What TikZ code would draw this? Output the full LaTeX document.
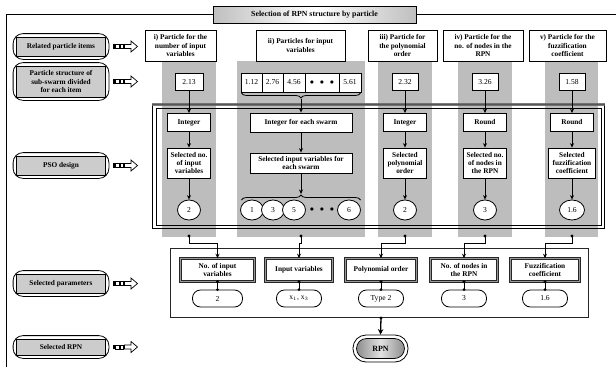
\documentclass[tikz,border=0pt]{standalone}
\usepackage{fontspec}
\setmainfont{Liberation Serif}
\usetikzlibrary{arrows.meta,shapes.geometric,shadows,fit,decorations.pathreplacing,calc}
\begin{document}
\begin{tikzpicture}[x=1pt,y=-1pt,
 every node/.style={font=\fontsize{7.3}{8.1}\selectfont\bfseries, inner sep=1pt, align=center},
 plain/.style={font=\fontsize{7.6}{8.4}\selectfont},
 hdr/.style={draw, fill=white, line width=0.8pt, minimum height=31pt,
   general shadow={fill=black, shadow xshift=1pt, shadow yshift=-1pt}},
 valbox/.style={draw, fill=white, line width=0.8pt, minimum height=17pt, plain},
 opbox/.style={draw, fill=white, line width=0.8pt, minimum height=18pt, minimum width=43pt},
 selbox/.style={draw, fill=white, line width=0.8pt, minimum height=30pt, minimum width=43pt},
 circ/.style={draw, fill=white, ellipse, line width=0.8pt, minimum width=23pt, minimum height=20pt, inner sep=0pt, plain},
 lin/.style={draw, fill=black!20, line width=0.8pt, minimum width=89pt},
 lout/.style={draw, rounded corners=10pt, inner sep=3pt, line width=0.8pt},
 pbox/.style={draw=black!85, double=black!40, double distance=1.1pt, line width=0.55pt, fill=white, minimum height=23pt},
 res/.style={draw, fill=white, rounded corners=8pt, line width=0.8pt, minimum width=45pt, minimum height=17pt, plain},
 arr/.style={line width=1pt, -{Stealth[length=4.5pt,width=4pt]}},
 conn/.style={line width=0.8pt, -{Stealth[length=4.5pt,width=4pt]}},
 dot/.style={circle, fill=black, inner sep=0pt, minimum size=3.4pt},
 colg/.style={fill=black!26},
 icon/.pic={
   \fill (0,-2.2) rectangle (2.2,2.2);
   \draw[line width=0.8pt] (3.2,-2) rectangle (6.6,2);
   \draw[line width=0.8pt] (7.6,-2) rectangle (11,2);
   \draw[line width=0.7pt] (12,-2) -- (18.5,-2) -- (18.5,-5.5) -- (25,0) -- (18.5,5.5) -- (18.5,2) -- (12,2) -- cycle;
 }
]
\useasboundingbox (0,0) rectangle (616,367);
% outer frame
\draw[line width=1pt] (616,14) -- (6,14) -- (6,367);
% gray columns
\fill[colg] (162,61) rectangle (216,237);
\fill[colg] (237,61) rectangle (365,237);
\fill[colg] (378,61) rectangle (432,237);
\fill[colg] (458,61) rectangle (512,237);
\fill[colg] (545,61) rectangle (598,237);
% PSO frame
\draw[line width=0.8pt] (152.5,104.5) rectangle (604.5,228.5);
\draw[line width=0.8pt] (156,108) rectangle (601,225);
\draw[line width=3.6pt, black!60, opacity=0.85] (152,104.5) -- (605,104.5);

% title
\node[draw, line width=0.9pt, left color=black!25, right color=black!25, middle color=white,
  minimum width=203pt, minimum height=17pt, font=\fontsize{7.8}{8.4}\selectfont\bfseries,
  general shadow={fill=black, shadow xshift=1pt, shadow yshift=-1pt}] (ttl) at (314.5,14.5)
  {Selection of RPN structure by particle};

% left labels
\node[lin, minimum height=19pt] (l1) at (61,46.5) {Related particle items};
\node[lout, fit=(l1)] (l1o) {};
\node[lin, minimum height=31pt] (l2) at (61,81.5) {Particle structure of\\sub-swarm divided\\for each item};
\node[lout, fit=(l2)] (l2o) {};
\node[lin, minimum height=19pt] (l3) at (61,165.5) {PSO design};
\node[lout, fit=(l3)] (l3o) {};
\node[lin, minimum height=19pt] (l4) at (61,283.5) {Selected parameters};
\node[lout, fit=(l4)] (l4o) {};
\node[lin, minimum height=16pt] (l5) at (61,347) {Selected RPN};
\node[lout, fit=(l5)] (l5o) {};
\pic at (112.5,46.5) {icon};
\pic at (112.5,81.5) {icon};
\pic at (112.5,165.5) {icon};
\pic at (112.5,283.5) {icon};
\pic at (112.5,347) {icon};

% headers
\node[hdr, minimum width=71pt] (h1) at (180.5,45.5) {i) Particle for the\\number of input\\variables};
\node[hdr, minimum width=89pt] (h2) at (300.5,45.5) {ii) Particles for input\\variables};
\node[hdr, minimum width=69pt] (h3) at (402.5,45.5) {iii) Particle for\\the polynomial\\order};
\node[hdr, minimum width=80pt] (h4) at (483,45.5) {iv) Particle for the\\no. of nodes in the\\RPN};
\node[hdr, minimum width=77pt] (h5) at (567.5,45.5) {v) Particle for the\\fuzzification\\coefficient};

% value boxes
\node[valbox, minimum width=28pt] (v1) at (189,82) {2.13};
\node[valbox, minimum width=26pt] (v3) at (405,82) {2.32};
\node[valbox, minimum width=26pt] (v4) at (485,82) {3.26};
\node[valbox, minimum width=26pt] (v5) at (572,82) {1.58};
\node[valbox, minimum width=21pt, minimum height=19pt] (a1) at (251.5,82.5) {1.12};
\node[valbox, minimum width=21pt, minimum height=19pt] (a2) at (272.5,82.5) {2.76};
\node[valbox, minimum width=22pt, minimum height=19pt] (a3) at (294,82.5) {4.56};
\node[valbox, minimum width=34pt, minimum height=19pt] (a4) at (322,82.5) {$\bullet\ \ \bullet\ \ \bullet$};
\node[valbox, minimum width=22pt, minimum height=19pt] (a5) at (350,82.5) {5.61};
\draw[line width=0.8pt, decorate, decoration={brace, mirror, amplitude=5pt}] (241.5,93) -- (360.5,93);
\coordinate (b1) at (301,99);

% operation boxes
\node[opbox] (o1) at (189,122.5) {Integer};
\node[opbox, minimum width=102pt, minimum height=19pt] (o2) at (301,122.5) {Integer for each swarm};
\node[opbox] (o3) at (405,122.5) {Integer};
\node[opbox] (o4) at (485,122.5) {Round};
\node[opbox] (o5) at (572,122.5) {Round};

% selected boxes
\node[selbox] (s1) at (189,163) {Selected no.\\of input\\variables};
\node[selbox, minimum width=102pt, minimum height=20pt] (s2) at (301,163) {Selected input variables for\\each swarm};
\node[selbox] (s3) at (405,163) {Selected\\polynomial\\order};
\node[selbox] (s4) at (485,163) {Selected no.\\of nodes in\\the RPN};
\node[selbox, minimum width=47pt] (s5) at (572,163) {Selected\\fuzzification\\coefficient};

% circles
\node[circ] (c1) at (189,210) {2};
\node[circ] (e1) at (252,210) {1};
\node[circ] (e3) at (273,210) {3};
\node[circ] (e5) at (294,210) {5};
\node[plain] (ed) at (322,210) {$\bullet\ \ \bullet\ \ \bullet$};
\node[circ] (e6) at (349,210) {6};
\node[circ] (c3) at (405,210) {2};
\node[circ] (c4) at (485,210) {3};
\node[circ, minimum width=25pt] (c5) at (572,210) {1.6};
\draw[line width=0.8pt, decorate, decoration={brace, amplitude=5pt}] (241.5,200) -- (360.5,200);
\coordinate (b2) at (301,194);

% vertical arrows
\draw[arr] (v1) -- (o1); \draw[arr] (o1) -- (s1); \draw[arr] (s1) -- (c1);
\draw[arr] (b1) -- (o2); \draw[arr] (o2) -- (s2); \draw[arr] (s2) -- (b2);
\draw[arr] (v3) -- (o3); \draw[arr] (o3) -- (s3); \draw[arr] (s3) -- (c3);
\draw[arr] (v4) -- (o4); \draw[arr] (o4) -- (s4); \draw[arr] (s4) -- (c4);
\draw[arr] (v5) -- (o5); \draw[arr] (o5) -- (s5); \draw[arr] (s5) -- (c5);

% selected parameters frame
\draw[line width=0.8pt, black!85] (170,248) rectangle (588,317);
\node[pbox, minimum width=74pt] (p1) at (217.5,270) {No. of input\\variables};
\node[pbox, minimum width=67pt] (p2) at (299,270) {Input variables};
\node[pbox, minimum width=71pt] (p3) at (381,270) {Polynomial order};
\node[pbox, minimum width=67pt] (p4) at (464,270) {No. of nodes in\\the RPN};
\node[pbox, minimum width=69pt] (p5) at (545,270) {Fuzzification\\coefficient};

\node[res, minimum width=50pt] (r1) at (217.5,298.5) {2};
\node[res] (r2) at (299,298.5) {x$_1$, x$_3$};
\node[res] (r3) at (381,298.5) {Type 2};
\node[res] (r4) at (464,298.5) {3};
\node[res] (r5) at (545,298.5) {1.6};
\foreach \i in {1,...,5}{
  \draw[line width=0.8pt] (p\i.south) -- (r\i.north);
  \fill (p\i.south) circle (1.6pt);
  \fill (r\i.north) circle (1.6pt);
}

% connectors from columns
\node[dot] (d1) at (189,236) {};
\node[dot] (d2) at (301,236) {};
\node[dot] (d3) at (405,236) {};
\node[dot] (d4) at (485,236) {};
\node[dot] (d5) at (572,236) {};
\foreach \i in {1,...,5}{
  \draw[conn] (d\i.center) -- ++(0,7) -| (p\i.north);
}

% RPN
\node[draw, fill=white, rounded corners=13pt, line width=0.8pt, minimum width=55pt, minimum height=27pt] (rpno) at (380.5,348.5) {};
\node[draw, rounded corners=10pt, line width=0.7pt, minimum width=48pt, minimum height=20pt,
  left color=black!45, right color=black!45, middle color=black!12,
  font=\fontsize{8}{8.6}\selectfont\bfseries] (rpn) at (380.5,348.5) {RPN};
\node[dot] (dr) at (381,318) {};
\draw[line width=1.3pt, -{Stealth[length=5.5pt,width=5.5pt]}] (dr.center) -- (rpno.north);
\end{tikzpicture}
\end{document}
